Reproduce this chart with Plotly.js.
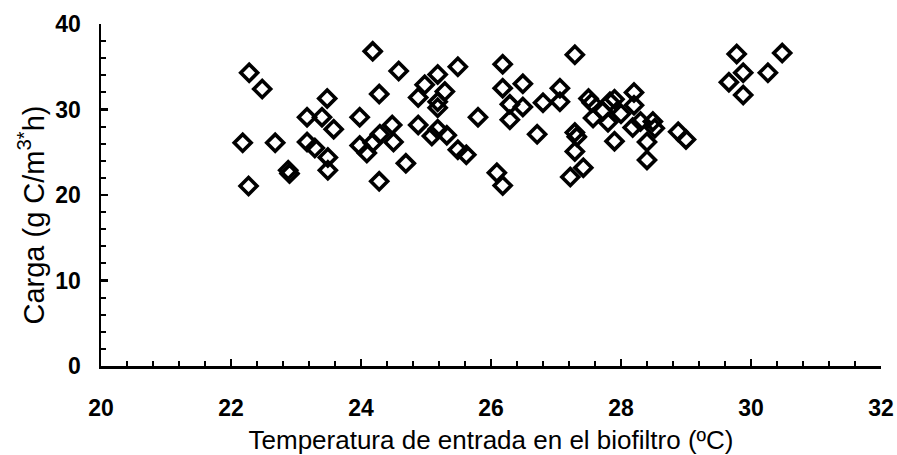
<!DOCTYPE html>
<html>
<head>
<meta charset="utf-8">
<script src="https://cdn.plot.ly/plotly-3.0.1.min.js"></script>
<style>
  html, body { margin: 0; padding: 0; background: #fff; }
  #chart { width: 897px; height: 455px; }
</style>
</head>
<body>
<div id="chart"></div>
<script>
// Inlet temperature of the biofilter (ºC)
const temperatura = [
  22.18, 22.28, 22.27, 22.48, 22.68, 22.88, 22.90, 23.17, 23.17, 23.29,
  23.40, 23.48, 23.49, 23.49, 23.58, 23.98, 23.98, 24.09, 24.18, 24.18,
  24.28, 24.29, 24.28, 24.48, 24.50, 24.58, 24.69, 24.88, 24.88, 24.98,
  25.09, 25.18, 25.18, 25.18, 25.18, 25.29, 25.32, 25.49, 25.49, 25.62,
  25.80, 26.09, 26.18, 26.18, 26.18, 26.29, 26.29, 26.49, 26.49, 26.71,
  26.80, 27.06, 27.06, 27.22, 27.29, 27.29, 27.32, 27.29, 27.42, 27.50,
  27.55, 27.57, 27.72, 27.80, 27.83, 27.90, 28.00, 27.90, 28.20, 28.20,
  28.18, 28.30, 28.49, 28.52, 28.40, 28.40, 28.88, 29.00, 29.66, 29.78,
  29.88, 29.88, 30.26, 30.48
];

// Organic load (g C/m3·h)
const carga = [
  26.1, 34.3, 21.05, 32.4, 26.1, 22.9, 22.5, 29.1, 26.2, 25.5,
  29.1, 31.3, 24.4, 22.9, 27.7, 29.1, 25.8, 24.9, 26.1, 36.8,
  31.8, 27.1, 21.6, 28.2, 26.2, 34.5, 23.7, 31.4, 28.2, 32.9,
  26.9, 34.1, 30.9, 30.2, 27.7, 32.1, 27.0, 35.0, 25.3, 24.7,
  29.1, 22.6, 21.1, 35.3, 32.5, 30.6, 28.8, 33.0, 30.3, 27.1,
  30.8, 32.5, 30.9, 22.1, 36.4, 27.3, 26.8, 25.1, 23.2, 31.3,
  30.8, 29.0, 29.8, 28.5, 30.9, 31.2, 29.5, 26.3, 32.0, 30.5,
  27.9, 28.6, 28.6, 27.8, 26.2, 24.1, 27.4, 26.5, 33.2, 36.5,
  34.3, 31.7, 34.3, 36.6
];

const xTickVals = [20, 22, 24, 26, 28, 30, 32];
const yTickVals = [0, 10, 20, 30, 40];

const xTitle = 'Temperatura de entrada en el biofiltro (ºC)';
const yTitle = 'Carga (g C/m<sup>3*</sup>h)';

const fontFamily = '"Liberation Sans", Arial, sans-serif';

const trace = {
  type: 'scatter',
  mode: 'markers',
  x: temperatura,
  y: carga,
  marker: {
    symbol: 'diamond-open',
    size: 13,
    color: '#000',
    line: { color: '#000', width: 3.6 }
  },
  hoverinfo: 'x+y'
};

const axisCommon = {
  showgrid: false,
  zeroline: false,
  showline: true,
  linecolor: '#000',
  linewidth: 2.5,
  ticks: 'inside',
  ticklen: 7,
  tickwidth: 2.2,
  tickcolor: '#000',
  mirror: false,
  tickfont: { family: fontFamily, size: 23, color: '#000', weight: 'bold' }
};

const layout = {
  width: 897,
  height: 455,
  margin: { l: 101, r: 16, t: 24, b: 89 },
  paper_bgcolor: '#fff',
  plot_bgcolor: '#fff',
  showlegend: false,
  xaxis: Object.assign({}, axisCommon, {
    range: [20, 32],
    tickmode: 'array',
    tickvals: xTickVals,
    ticktext: xTickVals.map(String),
    ticklabelstandoff: 20,
    minor: { dtick: 0.4, ticks: 'inside', ticklen: 5, tickwidth: 2, tickcolor: '#000', showgrid: false },
    title: {
      text: xTitle,
      font: { family: fontFamily, size: 26, color: '#000' },
      standoff: 12
    }
  }),
  yaxis: Object.assign({}, axisCommon, {
    range: [0, 40],
    tickmode: 'array',
    tickvals: yTickVals,
    ticktext: yTickVals.map(String),
    ticklabelstandoff: 13,
    minor: { dtick: 2, ticks: 'inside', ticklen: 5, tickwidth: 2, tickcolor: '#000', showgrid: false }
  }),
  // vertical axis title, set slightly below the plot's middle
  annotations: [{
    text: yTitle,
    xref: 'paper', yref: 'paper',
    x: 0, y: 0.44,
    xanchor: 'center', yanchor: 'middle',
    xshift: -70,
    textangle: -90,
    showarrow: false,
    font: { family: fontFamily, size: 29, color: '#000' }
  }]
};

Plotly.newPlot('chart', [trace], layout, { displayModeBar: false, staticPlot: true });
</script>
</body>
</html>
